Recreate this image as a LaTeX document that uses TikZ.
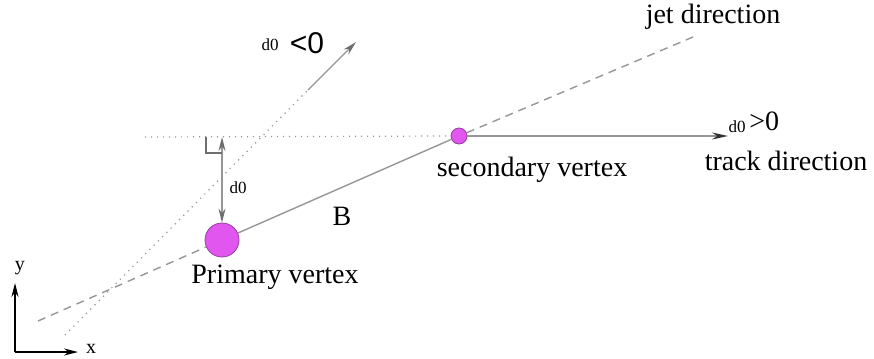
\documentclass[tikz,border=0pt]{standalone}
\usepackage{xcolor}
\usepackage{fontspec}
\setmainfont{Liberation Serif}
\newfontfamily\signfont{Liberation Sans}
\usepackage{tikz}
\usetikzlibrary{arrows.meta, positioning}
\definecolor{VtxMagenta}{RGB}{226, 86, 240}
\definecolor{VtxEdge}{RGB}{150, 60, 160}
\definecolor{LineGray}{RGB}{150, 150, 150}
\definecolor{TipGray}{RGB}{110, 110, 110}

\begin{document}
\begin{tikzpicture}[x=0.5pt, y=-0.5pt,
  vertex/.style={circle, draw=VtxEdge, fill=VtxMagenta, line width=0.4pt, inner sep=0pt},
  dotline/.style={LineGray, line width=0.6pt, dash pattern=on 0.6pt off 2.4pt},
  jetline/.style={LineGray, line width=0.7pt, dash pattern=on 4pt off 3pt},
  solidline/.style={LineGray, line width=0.7pt},
  lbl/.style={font=\fontsize{14}{16}\selectfont, inner sep=0pt},
  smalllbl/.style={font=\fontsize{8.5}{10}\selectfont, inner sep=0pt},
  signlbl/.style={font=\fontsize{14}{16}\selectfont, inner sep=0pt}]
  \useasboundingbox (0,0) rectangle (874,359);

  % vertices
  \node[vertex, minimum size=17pt] (pv) at (222,240) {};
  \node[vertex, minimum size=8pt] (sv) at (459,136) {};

  % jet axis through both vertices
  \coordinate (jetstart) at (38,321);
  \coordinate (jetend) at (693,37);
  \draw[jetline] (jetstart) -- (pv);
  \draw[solidline] (pv) -- (sv);
  \draw[jetline] (sv) -- (jetend);

  % track and its extension
  \coordinate (dotstart) at (145,137);
  \coordinate (trackend) at (728,136);
  \draw[dotline] (dotstart) -- (sv.west);
  \draw[solidline, -{Stealth[length=8pt, width=3.5pt, color=black!80]}] (sv.east) -- (trackend);

  % negative side
  \coordinate (negstart) at (65,335);
  \coordinate (negmid) at (308,90);
  \coordinate (negend) at (356,42);
  \draw[dotline] (negstart) -- (negmid);
  \draw[solidline, -{Stealth[length=7pt, width=3.5pt, color=TipGray]}] (negmid) -- (negend);

  % impact parameter
  \coordinate (foot) at (222,137);
  \draw[solidline, {Stealth[length=7pt, width=3.5pt, color=TipGray]}-{Stealth[length=7pt, width=3.5pt, color=TipGray]}] (foot) -- (pv.north);
  \draw[TipGray, line width=0.6pt] (206,137) -- (206,153) -- (222,153);

  % axes
  \coordinate (origin) at (15,352);
  \coordinate (yend) at (15,283);
  \coordinate (xend) at (78,352);
  \draw[line width=0.6pt, -{Stealth[length=7pt, width=3.5pt]}] (origin) -- (yend);
  \draw[line width=0.6pt, -{Stealth[length=7pt, width=3.5pt]}] (origin) -- (xend);
  \node[font=\fontsize{10}{12}\selectfont, inner sep=0pt] (ylbl) at (20,268) {y};
  \node[font=\fontsize{10}{12}\selectfont, inner sep=0pt] (xlbl) at (91,349) {x};

  % labels
  \node[lbl] (blbl) at (342,216) {B};
  \node[lbl] (pvlbl) at (275,277) {Primary vertex};
  \node[lbl] (svlbl) at (532,170) {secondary vertex};
  \node[lbl] (jetlbl) at (713,17) {jet direction};
  \node[lbl] (tracklbl) at (786,161) {track direction};
  \node[smalllbl] (dlbl) at (238,188) {d0};
  \node[smalllbl] (dneg) at (270,45) {d0};
  \node[signlbl, font=\signfont\fontsize{15}{17}\selectfont] (neg) at (307,43) {<0};
  \node[smalllbl] (dpos) at (737,127) {d0};
  \node[signlbl, anchor=west] (pos) at (749,121) {>0};
\end{tikzpicture}
\end{document}
